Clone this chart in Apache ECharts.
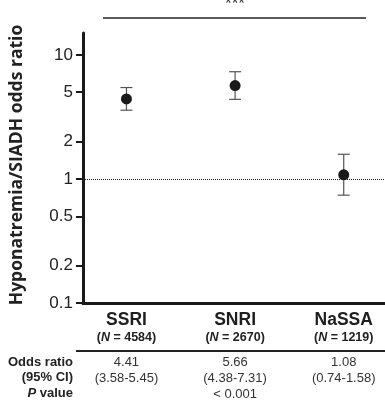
<!DOCTYPE html>
<html>
<head>
<meta charset="utf-8">
<script src="https://cdn.jsdelivr.net/npm/echarts@6/dist/echarts.min.js"></script>
<style>
  html, body { margin: 0; padding: 0; background: #fff; }
  #chart { width: 385px; height: 402px; }
</style>
</head>
<body>
<div id="chart"></div>
<script>
//数据
var categories = ['SSRI', 'SNRI', 'NaSSA'];
var sampleSizes = [4584, 2670, 1219];
var oddsRatios = [4.41, 5.66, 1.08];
var ciLow = [3.58, 4.38, 0.74];
var ciHigh = [5.45, 7.31, 1.58];
var pValues = ['', '< 0.001', ''];
var yTicks = [0.1, 0.2, 0.5, 1, 2, 5, 10];
var xPos = [1, 2, 3];

var pointData = [];
var barData = [];
categories.forEach(function(val, key) {
  pointData.push([xPos[key], oddsRatios[key]]);
  barData.push([xPos[key], ciLow[key], ciHigh[key]]);
});

//组名 + 样本量
function catLabel(value) {
  var i = xPos.indexOf(value);
  if (i < 0) return '';
  return '{name|' + categories[i] + '}\n' +
    '{n|(}{ni|N}{n| = ' + sampleSizes[i] + ')}';
}

//表格: 比值比, 置信区间, P值
function tableLabel(value) {
  var i = xPos.indexOf(value);
  if (i < 0) return '';
  var s = '{v|' + oddsRatios[i].toFixed(2) + '}\n' +
    '{v|(' + ciLow[i].toFixed(2) + '-' + ciHigh[i].toFixed(2) + ')}';
  if (pValues[i]) s += '\n{v|' + pValues[i] + '}';
  return s;
}

var font = '"Liberation Sans", Arial, sans-serif';
var ink = '#1a1a1a';

var chart = echarts.init(document.getElementById('chart'));
chart.setOption({
  animation: false,
  grid: { left: 82, right: 0, top: 33, bottom: 99 },
  xAxis: [{
    type: 'value',
    min: 0.6,
    max: 3.38,
    splitLine: { show: false },
    axisLine: { show: true, onZero: false, lineStyle: { color: ink, width: 3 } },
    axisTick: { show: false },
    axisLabel: {
      customValues: xPos,
      margin: 7,
      formatter: catLabel,
      rich: {
        name: { fontFamily: font, fontSize: 17.5, fontWeight: 'bold', lineHeight: 20, color: '#1e1e1e' },
        n: { fontFamily: font, fontSize: 12.5, fontWeight: 'bold', lineHeight: 16, color: '#222' },
        ni: { fontFamily: font, fontSize: 12.5, fontWeight: 'bold', fontStyle: 'italic', lineHeight: 16, color: '#222' }
      }
    }
  }, {
    type: 'value',
    position: 'bottom',
    min: 0.6,
    max: 3.38,
    splitLine: { show: false },
    axisLine: { show: false },
    axisTick: { show: false },
    axisLabel: {
      customValues: xPos,
      margin: 51,
      formatter: tableLabel,
      rich: {
        v: { fontFamily: font, fontSize: 13, lineHeight: 16, color: '#333' }
      }
    }
  }],
  yAxis: {
    type: 'log',
    min: 0.1,
    max: 15,
    name: 'Hyponatremia/SIADH odds ratio',
    nameLocation: 'middle',
    nameRotate: 90,
    nameGap: 57,
    nameTextStyle: { fontFamily: '"Open Sans", sans-serif', fontSize: 17.5, fontWeight: 'bold', color: '#222', padding: [0, 0, 0, 6] },
    splitLine: { show: false },
    axisLine: { show: true, lineStyle: { color: ink, width: 3 } },
    axisTick: { show: true, customValues: yTicks, length: 7, lineStyle: { color: ink, width: 2 } },
    axisLabel: {
      customValues: yTicks,
      margin: 10,
      fontFamily: font,
      fontSize: 17,
      color: '#222'
    }
  },
  series: [{
    type: 'custom',
    data: barData,
    z: 2,
    renderItem: function(params, api) {
      var lo = api.coord([api.value(0), api.value(1)]);
      var hi = api.coord([api.value(0), api.value(2)]);
      var w = 6;
      var st = { stroke: '#555', lineWidth: 1.2 };
      return {
        type: 'group',
        children: [
          { type: 'line', shape: { x1: lo[0], y1: lo[1], x2: hi[0], y2: hi[1] }, style: st },
          { type: 'line', shape: { x1: lo[0] - w, y1: lo[1], x2: lo[0] + w, y2: lo[1] }, style: st },
          { type: 'line', shape: { x1: hi[0] - w, y1: hi[1], x2: hi[0] + w, y2: hi[1] }, style: st }
        ]
      };
    }
  }, {
    type: 'scatter',
    data: pointData,
    symbolSize: 11,
    z: 3,
    itemStyle: { color: ink, opacity: 1 },
    markLine: {
      silent: true,
      symbol: 'none',
      label: { show: false },
      lineStyle: { color: '#222', type: 'dotted', width: 1 },
      data: [{ yAxis: 1 }]
    }
  }],
  graphic: [
    { type: 'line', shape: { x1: 103, y1: 18, x2: 366, y2: 18 }, style: { stroke: '#222', lineWidth: 1.5 } },
    { type: 'text', x: 235, y: -4, style: { text: '***', fontFamily: font, fontSize: 17, fill: '#333', align: 'center', verticalAlign: 'top' } },
    { type: 'line', shape: { x1: 76, y1: 351, x2: 385, y2: 351 }, style: { stroke: '#222', lineWidth: 2 } },
    { type: 'text', x: 73, y: 362, style: { text: 'Odds ratio', fontFamily: font, fontSize: 13, fontWeight: 'bold', fill: '#222', align: 'right', verticalAlign: 'middle' } },
    { type: 'text', x: 73, y: 377, style: { text: '(95% CI)', fontFamily: font, fontSize: 13, fontWeight: 'bold', fill: '#222', align: 'right', verticalAlign: 'middle' } },
    { type: 'text', x: 73, y: 393, style: {
      text: '{i|P} value', fontFamily: font, fontSize: 13, fontWeight: 'bold', fill: '#222', align: 'right', verticalAlign: 'middle',
      rich: { i: { fontFamily: font, fontSize: 13, fontWeight: 'bold', fontStyle: 'italic', fill: '#222' } }
    } }
  ]
});
</script>
</body>
</html>
